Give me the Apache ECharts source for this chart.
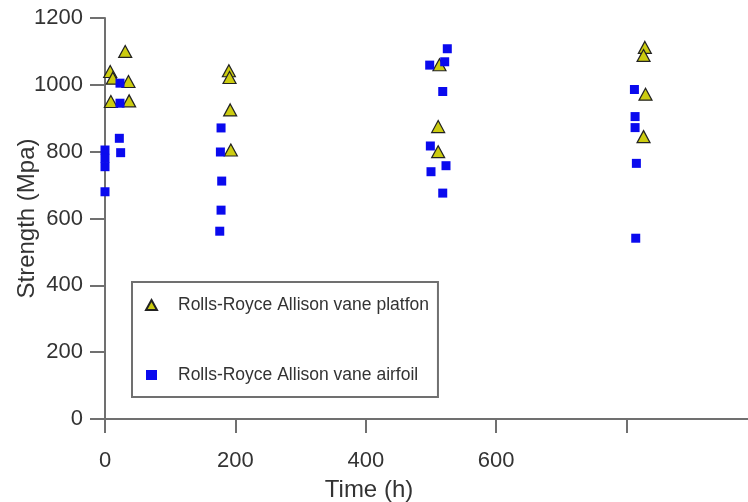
<!DOCTYPE html>
<html><head><meta charset="utf-8">
<script src="https://cdn.jsdelivr.net/npm/echarts@6/dist/echarts.min.js"></script>
<style>html,body{margin:0;padding:0;background:#fff}#c{width:748px;height:502px}</style>
</head><body><div id="c"></div>
<script>
const seriesNames = ['Rolls-Royce Allison vane platfon', 'Rolls-Royce Allison vane airfoil'];
const xTicks = [0, 200, 400, 600];
const platformTime = [31, 8, 12, 36, 9, 37, 190, 191, 192, 193, 511, 511, 513, 828, 826, 829, 826];
const platformStrength = [1100, 1040, 1020, 1010, 950, 952, 1042, 1022, 925, 805, 875, 800, 1060, 1112, 1088, 972, 845];
const airfoilTime = [0, 0, 0, 0, 22, 24, 23, 23, 178, 177, 179, 178, 176, 525, 498, 521, 518, 499, 523, 500, 518, 812, 813, 813, 815, 814];
const airfoilStrength = [805, 780, 755, 680, 840, 797, 1005, 945, 871, 799, 712, 625, 562, 1108, 1059, 1069, 980, 817, 758, 740, 676, 986, 905, 872, 765, 541];

const pair = (xs, ys) => xs.map((x, i) => [x, ys[i]]);
const font = '"Liberation Sans", Arial, Helvetica, sans-serif';
const axisCol = '#707070';

const chart = echarts.init(document.getElementById('c'), null, {renderer: 'canvas'});
chart.setOption({
  animation: false,
  backgroundColor: '#fff',
  grid: {left: 105, top: 18, right: -9, bottom: 83, containLabel: false, outerBoundsMode: 'none'},
  xAxis: [{
    type: 'value', min: 0, max: 1000, interval: 200, position: 'bottom',
    axisLine: {show: true, onZero: false, lineStyle: {color: axisCol, width: 2}},
    axisTick: {show: true, length: 14, lineStyle: {color: axisCol, width: 2}},
    axisLabel: {margin: 31, fontFamily: font, fontSize: 22, color: '#333',
      formatter: v => (xTicks.indexOf(v) >= 0 ? String(v) : '')},
    splitLine: {show: false},
    name: 'Time (h)', nameLocation: 'middle', nameGap: 59, nameMoveOverlap: false,
    nameTextStyle: {fontFamily: font, fontSize: 24, color: '#333', padding: [0, 124, 0, 0]}
  }, {
    type: 'value', min: 0, max: 1000, position: 'top',
    axisLine: {show: true, lineStyle: {color: axisCol, width: 2}},
    axisTick: {show: false}, axisLabel: {show: false}, splitLine: {show: false}
  }],
  yAxis: {
    type: 'value', min: 0, max: 1200, interval: 200,
    axisLine: {show: true, lineStyle: {color: axisCol, width: 2}},
    axisTick: {show: true, length: 15, lineStyle: {color: axisCol, width: 2}},
    axisLabel: {margin: 22, fontFamily: font, fontSize: 22, color: '#333', formatter: v => String(v)},
    splitLine: {show: false},
    name: 'Strength (Mpa)', nameLocation: 'middle', nameGap: 66, nameMoveOverlap: false,
    nameTextStyle: {fontFamily: font, fontSize: 24, color: '#333'}
  },
  legend: {
    left: 132, top: 282, orient: 'vertical',
    padding: [14, 9, 13, 13], itemGap: 52,
    itemWidth: 11, itemHeight: 10,
    borderColor: axisCol, borderWidth: 2, backgroundColor: '#fff',
    textStyle: {fontFamily: font, fontSize: 17.5, color: '#333', padding: [0, 0, 0, 16]},
    data: [{name: seriesNames[0], icon: 'triangle'}, {name: seriesNames[1], icon: 'rect'}]
  },
  series: [{
    name: seriesNames[0], type: 'scatter', symbol: 'triangle', symbolSize: [13, 12],
    itemStyle: {color: '#cccc10', borderColor: '#222', borderWidth: 1.2, opacity: 1},
    data: pair(platformTime, platformStrength), z: 3
  }, {
    name: seriesNames[1], type: 'scatter', symbol: 'rect', symbolSize: 9,
    itemStyle: {color: '#0a0aee', opacity: 1},
    data: pair(airfoilTime, airfoilStrength), z: 4
  }]
});
</script></body></html>
